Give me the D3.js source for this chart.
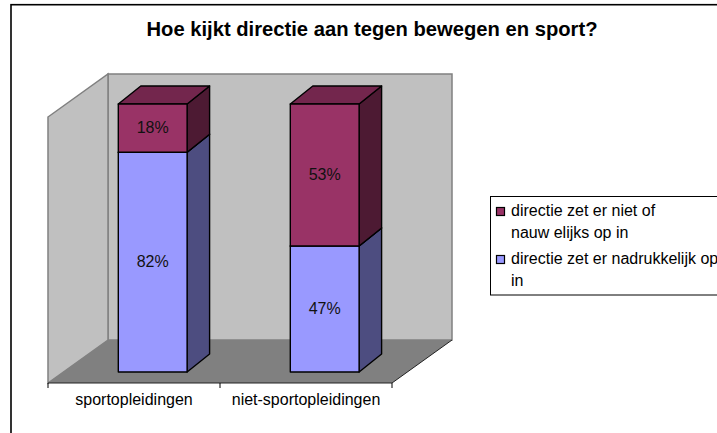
<!DOCTYPE html>
<html>
<head>
<meta charset="utf-8">
<script src="https://cdn.jsdelivr.net/npm/d3@7"></script>
<style>
html, body { margin: 0; padding: 0; background: #fff; overflow: hidden; }
svg { display: block; font-family: "Liberation Sans", Arial, sans-serif; }
</style>
</head>
<body>
<svg id="chart"></svg>
<script>
const categories = ['sportopleidingen', 'niet-sportopleidingen'];
const seriesNames = ['directie zet er nadrukkelijk op in', 'directie zet er niet of nauwelijks op in'];
const nadrukkelijk = [82, 47];
const nauwelijks = [18, 53];
const legendLines = [['directie zet er niet of', 'nauw elijks op in'], ['directie zet er nadrukkelijk op', 'in']];
const titleText = 'Hoe kijkt directie aan tegen bewegen en sport?';

const width = 717;
const height = 433;

const svg = d3.select('#chart')
    .attr('width', width)
    .attr('height', height);

// buitenrand loopt rechts en onder van de pagina af
svg.append('rect')
    .attr('x', 11).attr('y', 4.7)
    .attr('width', width + 20).attr('height', height + 20)
    .attr('fill', '#fff')
    .attr('stroke', '#000')
    .attr('stroke-width', 1.6);

svg.append('text')
    .attr('x', 372).attr('y', 36)
    .attr('text-anchor', 'middle')
    .attr('font-size', 20.2)
    .attr('font-weight', 'bold')
    .text(titleText);

// 3d doos
const wallDx = 60;
const wallDy = -43;
const barDx = 22.5;
const barDy = -18;
const floorY = 383;
const wallH = 266;

const x0 = 48;
const x1 = 392;

const pts = a => a.map(p => p.join(',')).join(' ');

const box = svg.append('g').attr('id', 'box');
box.append('polygon') // achterwand
    .attr('points', pts([[x0 + wallDx, floorY + wallDy - wallH], [x1 + wallDx, floorY + wallDy - wallH], [x1 + wallDx, floorY + wallDy], [x0 + wallDx, floorY + wallDy]]))
    .attr('fill', '#c0c0c0').attr('stroke', '#808080').attr('stroke-width', 1.5);
box.append('polygon') // zijwand
    .attr('points', pts([[x0, floorY - wallH], [x0 + wallDx, floorY + wallDy - wallH], [x0 + wallDx, floorY + wallDy], [x0, floorY]]))
    .attr('fill', '#c0c0c0').attr('stroke', '#808080').attr('stroke-width', 1.5);
box.append('polygon') // vloer
    .attr('points', pts([[x0, floorY], [x1, floorY], [x1 + wallDx, floorY + wallDy], [x0 + wallDx, floorY + wallDy]]))
    .attr('fill', '#808080');
box.append('path')
    .attr('d', `M${x0},${floorY}L${x1},${floorY}L${x1 + wallDx},${floorY + wallDy}`)
    .attr('fill', 'none').attr('stroke', '#222').attr('stroke-width', 1);

// as met categorie labels
const xAxisScale = d3.scaleBand().domain(categories).range([x0, x1]);
const axisG = svg.append('g')
    .attr('transform', `translate(0,${floorY})`)
    .call(d3.axisBottom(xAxisScale).tickSize(0).tickPadding(11));
axisG.select('.domain').remove();
axisG.selectAll('text')
    .attr('fill', '#000')
    .attr('font-size', 16)
    .attr('font-family', '"Liberation Sans", Arial, sans-serif');
axisG.selectAll('line.edge')
    .data([x0, (x0 + x1) / 2, x1])
    .enter().append('line')
    .attr('class', 'edge')
    .attr('x1', d => d).attr('x2', d => d)
    .attr('y1', 0).attr('y2', 5)
    .attr('stroke', '#000');

// staven
const x = d3.scaleBand()
    .domain(categories)
    .range([66.7, 410.7])
    .paddingInner(0.6)
    .paddingOuter(0.3);
const y = d3.scaleLinear().domain([0, 100]).range([372, 104]);

const rows = categories.map((c, i) => ({ cat: c, a: nadrukkelijk[i], b: nauwelijks[i] }));
const stack = d3.stack().keys(['a', 'b'])(rows);
const fronts = { a: '#9999ff', b: '#993366' };
const sides = { a: '#4d4d80', b: '#4d1a33' };
const tops = { a: '#7373bf', b: '#73264d' };

const seriesG = svg.selectAll('g.series')
    .data(stack)
    .enter().append('g')
    .attr('class', 'series')
    .attr('stroke', '#000')
    .attr('stroke-width', 1.4)
    .attr('stroke-linejoin', 'round');

seriesG.each(function(s) {
    const g = d3.select(this);
    const bars = g.selectAll('g').data(s).enter().append('g');
    bars.append('polygon') // zijkant
        .attr('fill', sides[s.key])
        .attr('points', d => {
            const r = x(d.data.cat) + x.bandwidth();
            return pts([[r, y(d[0])], [r + barDx, y(d[0]) + barDy], [r + barDx, y(d[1]) + barDy], [r, y(d[1])]]);
        });
    bars.append('polygon') // bovenkant
        .attr('fill', tops[s.key])
        .attr('points', d => {
            const l = x(d.data.cat);
            const r = l + x.bandwidth();
            return pts([[l, y(d[1])], [r, y(d[1])], [r + barDx, y(d[1]) + barDy], [l + barDx, y(d[1]) + barDy]]);
        });
    bars.append('rect') // voorkant
        .attr('fill', fronts[s.key])
        .attr('x', d => x(d.data.cat))
        .attr('y', d => y(d[1]))
        .attr('width', x.bandwidth())
        .attr('height', d => y(d[0]) - y(d[1]));
    bars.append('text')
        .attr('x', d => x(d.data.cat) + x.bandwidth() / 2)
        .attr('y', d => (y(d[0]) + y(d[1])) / 2 + 5)
        .attr('text-anchor', 'middle')
        .attr('font-size', 16)
        .attr('stroke', 'none')
        .attr('fill', '#111')
        .text(d => (d[1] - d[0]) + '%');
});

// legenda
const legend = svg.append('g').attr('id', 'legend');
legend.append('rect')
    .attr('x', 490.5).attr('y', 196.5)
    .attr('width', 260).attr('height', 98.5)
    .attr('fill', '#fff').attr('stroke', '#000');

const legendColors = [fronts.b, fronts.a];
const legendBase = [216, 264];
const lineStep = 21.5;

const items = legend.selectAll('g.item')
    .data(legendLines)
    .enter().append('g')
    .attr('class', 'item');
items.append('rect')
    .attr('x', 496.5)
    .attr('y', (d, i) => legendBase[i] - 8.5)
    .attr('width', 8).attr('height', 8)
    .attr('fill', (d, i) => legendColors[i])
    .attr('stroke', '#000').attr('stroke-width', 1.2);
items.each(function(lines, i) {
    d3.select(this).selectAll('text')
        .data(lines)
        .enter().append('text')
        .attr('x', 511)
        .attr('y', (d, j) => legendBase[i] + j * lineStep)
        .attr('font-size', 16)
        .text(d => d);
});
</script>
</body>
</html>
